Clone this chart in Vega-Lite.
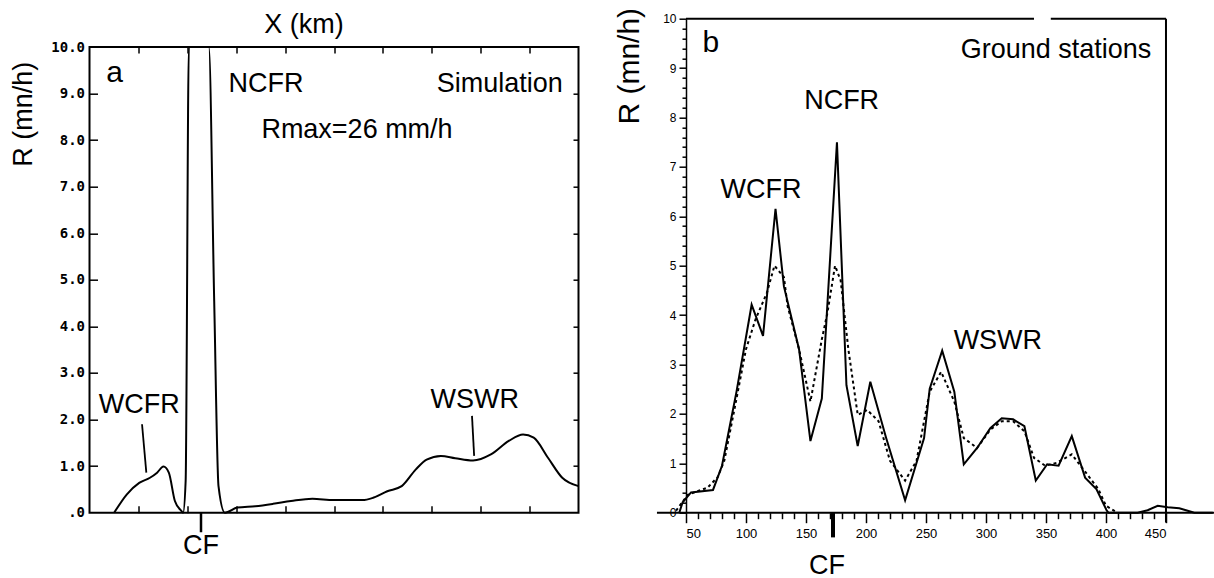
{
  "$schema": "https://vega.github.io/schema/vega-lite/v6.json",
  "background": "white",
  "padding": {"left": 8.5, "top": 6.7, "right": 0, "bottom": 0},
  "bounds": "flush",
  "spacing": 107.5,
  "config": {
    "view": {"stroke": null},
    "font": "Liberation Sans",
    "axis": {"domainColor": "black", "tickColor": "black", "labelColor": "black", "titleColor": "black", "domainWidth": 1.5, "tickWidth": 1.5, "grid": false}
  },
  "datasets": {
    "simA": [
      {"x": 25.2, "r": 0}, {"x": 38.0, "r": 0.39}, {"x": 50.8, "r": 0.64}, {"x": 61.8, "r": 0.75},
      {"x": 69.1, "r": 0.86}, {"x": 75.6, "r": 0.99}, {"x": 81.1, "r": 0.86}, {"x": 87.3, "r": 0.25},
      {"x": 93.9, "r": 0.04}, {"x": 95.7, "r": 0}, {"x": 98.3, "r": 0.68}, {"x": 101.6, "r": 10},
      {"x": 122.0, "r": 10}, {"x": 127.5, "r": 4.54}, {"x": 131.9, "r": 0.57}, {"x": 138.4, "r": 0},
      {"x": 151.2, "r": 0.11}, {"x": 169.5, "r": 0.14}, {"x": 187.7, "r": 0.19}, {"x": 206.0, "r": 0.25},
      {"x": 227.9, "r": 0.30}, {"x": 249.8, "r": 0.27}, {"x": 279.0, "r": 0.27}, {"x": 290.0, "r": 0.32},
      {"x": 304.5, "r": 0.46}, {"x": 319.2, "r": 0.57}, {"x": 333.7, "r": 0.93}, {"x": 344.7, "r": 1.14},
      {"x": 359.3, "r": 1.22}, {"x": 373.9, "r": 1.17}, {"x": 392.2, "r": 1.12}, {"x": 410.4, "r": 1.25},
      {"x": 428.7, "r": 1.54}, {"x": 443.3, "r": 1.68}, {"x": 454.2, "r": 1.61}, {"x": 468.8, "r": 1.18},
      {"x": 483.4, "r": 0.75}, {"x": 500, "r": 0.57}
    ],
    "frameA": [{"x": 0, "x2": 500, "y": 0, "y2": 10}],
    "textA": [
      {"x": 180.5, "y": 9.04, "label": "NCFR"},
      {"x": 419.6, "y": 9.04, "label": "Simulation"},
      {"x": 273.5, "y": 8.04, "label": "Rmax=26 mm/h"},
      {"x": 50.8, "y": 2.15, "label": "WCFR"},
      {"x": 394, "y": 2.24, "label": "WSWR"},
      {"x": 114, "y": -0.88, "label": "CF"}
    ],
    "letterA": [{"x": 25.7, "y": 9.25, "label": "a"}],
    "leadA": [
      {"x": 53.7, "y": 1.90, "x2": 58.1, "y2": 0.86},
      {"x": 391.1, "y": 2.08, "x2": 393.3, "y2": 1.22}
    ],
    "cfA": [{"x": 114, "y": 0, "y2": -0.42}],
    "solidB": [
      {"x": 44.4, "r": 0}, {"x": 47.2, "r": 0.21}, {"x": 54.2, "r": 0.41}, {"x": 72.5, "r": 0.46},
      {"x": 80, "r": 0.95}, {"x": 92.1, "r": 2.45}, {"x": 104.7, "r": 4.21}, {"x": 114.2, "r": 3.58},
      {"x": 124.6, "r": 6.15}, {"x": 131.6, "r": 4.58}, {"x": 144.2, "r": 3.31}, {"x": 153.7, "r": 1.45},
      {"x": 163.2, "r": 2.31}, {"x": 175.8, "r": 7.5}, {"x": 183.7, "r": 2.58}, {"x": 193.1, "r": 1.35},
      {"x": 203.6, "r": 2.65}, {"x": 216.8, "r": 1.51}, {"x": 232.6, "r": 0.25}, {"x": 248.4, "r": 1.51},
      {"x": 253.1, "r": 2.51}, {"x": 263.5, "r": 3.28}, {"x": 273.6, "r": 2.45}, {"x": 281.5, "r": 0.98},
      {"x": 292.6, "r": 1.31}, {"x": 303.6, "r": 1.71}, {"x": 313.1, "r": 1.91}, {"x": 322.6, "r": 1.89},
      {"x": 332.0, "r": 1.75}, {"x": 341.5, "r": 0.65}, {"x": 351.0, "r": 0.98}, {"x": 360.5, "r": 0.95},
      {"x": 371.5, "r": 1.55}, {"x": 382.6, "r": 0.71}, {"x": 392.0, "r": 0.48}, {"x": 400.5, "r": 0.05},
      {"x": 402, "r": 0}, {"x": 426.4, "r": 0}, {"x": 434.7, "r": 0.05}, {"x": 443.1, "r": 0.14},
      {"x": 451.4, "r": 0.11}, {"x": 461.1, "r": 0.09}, {"x": 468.1, "r": 0.04}, {"x": 473.6, "r": 0},
      {"x": 489, "r": 0}
    ],
    "dashedB": [
      {"x": 41.7, "r": 0.04}, {"x": 51.4, "r": 0.36}, {"x": 68.1, "r": 0.51}, {"x": 76.4, "r": 0.72},
      {"x": 81.9, "r": 1.05}, {"x": 90.5, "r": 2.11}, {"x": 100.0, "r": 3.31}, {"x": 107.9, "r": 3.91},
      {"x": 117.4, "r": 4.45}, {"x": 123.7, "r": 5.0}, {"x": 131.6, "r": 4.77}, {"x": 134.7, "r": 4.18},
      {"x": 144.2, "r": 3.31}, {"x": 153.7, "r": 2.25}, {"x": 163.2, "r": 3.51}, {"x": 167.9, "r": 4.05},
      {"x": 174.2, "r": 5.0}, {"x": 178.9, "r": 4.70}, {"x": 185.3, "r": 3.31}, {"x": 193.1, "r": 1.98},
      {"x": 201.0, "r": 2.08}, {"x": 210.5, "r": 1.85}, {"x": 220.0, "r": 1.05}, {"x": 232.6, "r": 0.65},
      {"x": 242.1, "r": 1.05}, {"x": 253.1, "r": 2.45}, {"x": 262.6, "r": 2.85}, {"x": 273.6, "r": 2.25},
      {"x": 281.5, "r": 1.51}, {"x": 292.6, "r": 1.31}, {"x": 303.6, "r": 1.68}, {"x": 313.1, "r": 1.85},
      {"x": 322.6, "r": 1.85}, {"x": 332.0, "r": 1.65}, {"x": 340.0, "r": 1.11}, {"x": 349.4, "r": 0.95},
      {"x": 358.9, "r": 1.01}, {"x": 371.5, "r": 1.18}, {"x": 384.2, "r": 0.78}, {"x": 393.6, "r": 0.48},
      {"x": 400, "r": 0.14}, {"x": 409.5, "r": 0}
    ],
    "frameB": [
      {"x": 50, "x2": 340, "y": 10, "y2": 10},
      {"x": 354, "x2": 450, "y": 10, "y2": 10},
      {"x": 450, "x2": 450, "y": -0.2, "y2": 10},
      {"x": 25.8, "x2": 490, "y": 0, "y2": 0}
    ],
    "textB": [
      {"x": 358.3, "y": 9.21, "label": "Ground stations"},
      {"x": 179.7, "y": 8.17, "label": "NCFR"},
      {"x": 112.5, "y": 6.38, "label": "WCFR"},
      {"x": 309.9, "y": 3.31, "label": "WSWR"},
      {"x": 167.5, "y": -1.24, "label": "CF"}
    ],
    "letterB": [{"x": 70.8, "y": 9.32, "label": "b"}],
    "cfB": [{"x": 172.5, "y": 0, "y2": -0.5}]
  },
  "hconcat": [
    {
      "width": 489,
      "height": 494,
      "resolve": {"axis": {"x": "independent", "y": "independent"}},
      "layer": [
        {
          "data": {"name": "frameA"},
          "mark": {"type": "rect", "fillOpacity": 0, "stroke": "black", "strokeWidth": 2},
          "encoding": {
            "x": {"field": "x", "type": "quantitative", "scale": {"domain": [0, 500], "nice": false, "zero": false},
              "axis": {"orient": "top", "offset": -28.3, "values": [50, 100, 150, 200, 250, 300, 350, 400, 450], "tickSize": -6, "labels": false, "domain": false,
                "title": "X (km)", "titleFont": "Liberation Sans", "titleFontSize": 27, "titleFontWeight": "normal", "titleX": 214, "titleY": -14.6, "titleAlign": "center", "titleBaseline": "alphabetic", "titleAngle": 0}},
            "x2": {"field": "x2"},
            "y": {"field": "y", "type": "quantitative", "scale": {"domain": [0, 10.608], "nice": false, "zero": false},
              "axis": {"orient": "left", "values": [1, 2, 3, 4, 5, 6, 7, 8, 9], "tickSize": -8, "labels": false, "domain": false, "title": null}},
            "y2": {"field": "y2"}
          }
        },
        {
          "data": {"name": "simA"},
          "mark": {"type": "line", "color": "black", "strokeWidth": 2, "interpolate": "monotone"},
          "encoding": {
            "x": {"field": "x", "type": "quantitative", "scale": {"domain": [0, 500], "nice": false, "zero": false},
              "axis": {"orient": "bottom", "values": [50, 100, 150, 200, 250, 300, 350, 400, 450], "tickSize": -7, "labels": false, "domain": false, "title": null}},
            "y": {"field": "r", "type": "quantitative", "scale": {"domain": [0, 10.608], "nice": false, "zero": false},
              "axis": {"orient": "left", "values": [0, 1, 2, 3, 4, 5, 6, 7, 8, 9, 10], "ticks": false, "domain": false,
                "labelExpr": "datum.value == 0 ? '.0' : format(datum.value, '.1f')",
                "labelFont": "DejaVu Sans Mono", "labelFontWeight": "bold", "labelFontSize": 14, "labelPadding": 5,
                "title": "R (mn/h)", "titleFont": "Liberation Sans", "titleFontSize": 27, "titleFontWeight": "normal",
                "titleX": -66.5, "titleY": 95, "titleAngle": -90, "titleAlign": "center", "titleBaseline": "middle"}}
          }
        },
        {
          "data": {"name": "textA"},
          "mark": {"type": "text", "font": "Liberation Sans", "fontSize": 27, "align": "center", "baseline": "alphabetic", "color": "black"},
          "encoding": {
            "x": {"field": "x", "type": "quantitative", "scale": {"domain": [0, 500], "nice": false, "zero": false}, "axis": null},
            "y": {"field": "y", "type": "quantitative", "scale": {"domain": [0, 10.608], "nice": false, "zero": false},
              "axis": {"orient": "right", "values": [1, 2, 3, 4, 5, 6, 7, 8, 9], "tickSize": -5.5, "labels": false, "domain": false, "title": null}},
            "text": {"field": "label"}
          }
        },
        {
          "data": {"name": "letterA"},
          "mark": {"type": "text", "font": "Liberation Sans", "fontSize": 30, "align": "center", "baseline": "alphabetic", "color": "black"},
          "encoding": {
            "x": {"field": "x", "type": "quantitative", "axis": null},
            "y": {"field": "y", "type": "quantitative", "axis": null},
            "text": {"field": "label"}
          }
        },
        {
          "data": {"name": "leadA"},
          "mark": {"type": "rule", "color": "black", "strokeWidth": 1.8},
          "encoding": {
            "x": {"field": "x", "type": "quantitative", "axis": null},
            "x2": {"field": "x2"},
            "y": {"field": "y", "type": "quantitative", "axis": null},
            "y2": {"field": "y2"}
          }
        },
        {
          "data": {"name": "cfA"},
          "mark": {"type": "rule", "color": "black", "strokeWidth": 2.5},
          "encoding": {
            "x": {"field": "x", "type": "quantitative", "axis": null},
            "y": {"field": "y", "type": "quantitative", "axis": null},
            "y2": {"field": "y2"}
          }
        }
      ]
    },
    {
      "width": 480,
      "height": 494,
      "resolve": {"axis": {"x": "independent", "y": "independent"}},
      "layer": [
        {
          "data": {"name": "solidB"},
          "mark": {"type": "line", "color": "black", "strokeWidth": 2},
          "encoding": {
            "x": {"field": "x", "type": "quantitative", "scale": {"domain": [50, 450], "nice": false, "zero": false},
              "axis": {"orient": "bottom", "values": [50, 100, 150, 200, 250, 300, 350, 400, 450], "tickSize": 10, "labelFont": "Liberation Sans", "labelFontSize": 13, "labelPadding": 5, "domain": false, "title": null}},
            "y": {"field": "r", "type": "quantitative", "scale": {"domain": [0, 10], "nice": false, "zero": false},
              "axis": {"orient": "left", "values": [0, 1, 2, 3, 4, 5, 6, 7, 8, 9, 10], "tickSize": 7, "labelFont": "Liberation Sans", "labelFontSize": 12, "labelPadding": 3, "domain": true,
                "title": "R (mn/h)", "titleFont": "Liberation Sans", "titleFontSize": 30, "titleFontWeight": "normal",
                "titleX": -56, "titleY": 47, "titleAngle": -90, "titleAlign": "center", "titleBaseline": "middle"}}
          }
        },
        {
          "data": {"name": "dashedB"},
          "mark": {"type": "line", "color": "black", "strokeWidth": 2, "strokeDash": [3, 3]},
          "encoding": {
            "x": {"field": "x", "type": "quantitative", "scale": {"domain": [50, 450], "nice": false, "zero": false},
              "axis": {"orient": "bottom", "values": [60, 70, 80, 90, 110, 120, 130, 140, 160, 170, 180, 190, 210, 220, 230, 240, 260, 270, 280, 290, 310, 320, 330, 340, 360, 370, 380, 390, 410, 420, 430, 440], "tickSize": 6, "labels": false, "domain": false, "title": null}},
            "y": {"field": "r", "type": "quantitative", "scale": {"domain": [0, 10], "nice": false, "zero": false},
              "axis": {"orient": "left", "values": [0.2, 0.4, 0.6, 0.8, 1.2, 1.4, 1.6, 1.8, 2.2, 2.4, 2.6, 2.8, 3.2, 3.4, 3.6, 3.8, 4.2, 4.4, 4.6, 4.8, 5.2, 5.4, 5.6, 5.8, 6.2, 6.4, 6.6, 6.8, 7.2, 7.4, 7.6, 7.8, 8.2, 8.4, 8.6, 8.8, 9.2, 9.4, 9.6, 9.8], "tickSize": 4, "labels": false, "domain": false, "title": null}}
          }
        },
        {
          "data": {"name": "frameB"},
          "mark": {"type": "rule", "color": "black", "strokeWidth": 2},
          "encoding": {
            "x": {"field": "x", "type": "quantitative", "axis": null},
            "x2": {"field": "x2"},
            "y": {"field": "y", "type": "quantitative", "axis": null},
            "y2": {"field": "y2"}
          }
        },
        {
          "data": {"name": "textB"},
          "mark": {"type": "text", "font": "Liberation Sans", "fontSize": 27, "align": "center", "baseline": "alphabetic", "color": "black"},
          "encoding": {
            "x": {"field": "x", "type": "quantitative", "axis": null},
            "y": {"field": "y", "type": "quantitative", "axis": null},
            "text": {"field": "label"}
          }
        },
        {
          "data": {"name": "letterB"},
          "mark": {"type": "text", "font": "Liberation Sans", "fontSize": 30, "align": "center", "baseline": "alphabetic", "color": "black"},
          "encoding": {
            "x": {"field": "x", "type": "quantitative", "axis": null},
            "y": {"field": "y", "type": "quantitative", "axis": null},
            "text": {"field": "label"}
          }
        },
        {
          "data": {"name": "cfB"},
          "mark": {"type": "rule", "color": "black", "strokeWidth": 4},
          "encoding": {
            "x": {"field": "x", "type": "quantitative", "axis": null},
            "y": {"field": "y", "type": "quantitative", "axis": null},
            "y2": {"field": "y2"}
          }
        }
      ]
    }
  ]
}
